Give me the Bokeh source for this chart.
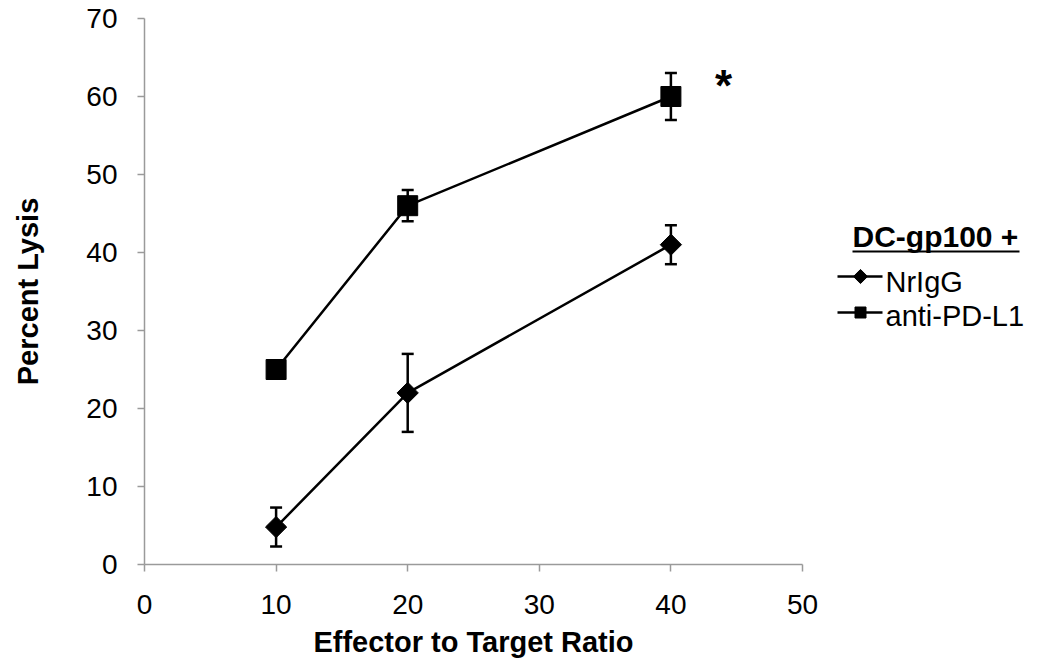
import math
from bokeh.plotting import figure
from bokeh.models import ColumnDataSource, Whisker, TeeHead, FixedTicker, Range1d
from bokeh.layouts import row
from bokeh.embed import file_html
from bokeh.resources import INLINE
from bokeh.core.properties import value

# ---------------- data ----------------
ratios = [10, 20, 40]
nrigg = [4.8, 22.0, 41.0]
nrigg_err = [2.5, 5.0, 2.5]
antipdl1 = [25.0, 46.0, 60.0]
antipdl1_err = [0.5, 2.0, 3.0]
series_names = ["NrIgG", "anti-PD-L1"]
x_ticks = [0, 10, 20, 30, 40, 50]
y_ticks = [0, 10, 20, 30, 40, 50, 60, 70]
x_label = "Effector to Target Ratio"
y_label = "Percent Lysis"
legend_title = "DC-gp100 +"
star_text = "*"

FONT = "Liberation Sans"
AXIS_GRAY = "#9a9a9a"

# layout (pixels)
MAIN_W, H = 818, 663
LEG_W = 224
FR_LEFT, FR_TOP, FR_BOTTOM_PAD, FR_RIGHT_PAD = 144, 18, 99, 16
STAR_X, STAR_Y = 44.0, 61.4

# ---------------- main plot ----------------
p = figure(width=MAIN_W, height=H, x_range=Range1d(0, 50), y_range=Range1d(0, 70),
           output_backend="svg", toolbar_location=None,
           min_border_left=FR_LEFT, min_border_right=FR_RIGHT_PAD, min_border_top=FR_TOP,
           min_border_bottom=FR_BOTTOM_PAD, outline_line_color=None)
p.grid.visible = False

for ax in (p.xaxis[0], p.yaxis[0]):
    ax.axis_line_color = AXIS_GRAY
    ax.axis_line_width = 1.5
    ax.major_tick_line_color = AXIS_GRAY
    ax.major_tick_line_width = 1.5
    ax.major_tick_in = 0
    ax.major_tick_out = 7
    ax.minor_tick_line_color = None
    ax.major_label_text_font = FONT
    ax.major_label_text_font_size = "28px"
    ax.major_label_text_color = "black"
    ax.axis_label_text_font = FONT
    ax.axis_label_text_font_size = "29px"
    ax.axis_label_text_font_style = "bold"
    ax.axis_label_text_color = "black"

p.xaxis.ticker = FixedTicker(ticks=x_ticks)
p.yaxis.ticker = FixedTicker(ticks=y_ticks)
p.xaxis.axis_label = x_label
p.yaxis.axis_label = y_label
p.xaxis.major_label_standoff = 23
p.xaxis.axis_label_standoff = 9
p.yaxis.major_label_standoff = 20
p.yaxis.axis_label_standoff = 39

src_a = ColumnDataSource(dict(x=ratios, y=nrigg,
                              lo=[v - e for v, e in zip(nrigg, nrigg_err)],
                              hi=[v + e for v, e in zip(nrigg, nrigg_err)]))
src_b = ColumnDataSource(dict(x=ratios, y=antipdl1,
                              lo=[v - e for v, e in zip(antipdl1, antipdl1_err)],
                              hi=[v + e for v, e in zip(antipdl1, antipdl1_err)]))

for src in (src_a, src_b):
    w = Whisker(source=src, base="x", upper="hi", lower="lo",
                line_color="black", line_width=2.5,
                upper_head=TeeHead(size=12, line_width=2.5, line_color="black"),
                lower_head=TeeHead(size=12, line_width=2.5, line_color="black"))
    p.add_layout(w)

p.line("x", "y", source=src_a, line_color="black", line_width=2.5)
p.scatter("x", "y", source=src_a, marker="square", angle=math.pi / 4, size=15,
          fill_color="black", line_color="black")
p.line("x", "y", source=src_b, line_color="black", line_width=2.5)
p.scatter("x", "y", source=src_b, marker="square", size=20,
          fill_color="black", line_color="black")

p.text(x=[STAR_X], y=[STAR_Y], text=[star_text], text_font=value(FONT),
       text_font_style="bold", text_font_size="44px", text_align="center",
       text_baseline="alphabetic", text_color="black")

# ---------------- legend panel (frame aligned with main frame; coords = page px) ----------------
lf = figure(width=LEG_W, height=H,
            x_range=Range1d(MAIN_W, MAIN_W + LEG_W), y_range=Range1d(H - FR_BOTTOM_PAD, FR_TOP),
            output_backend="svg", toolbar_location=None, min_border=0,
            x_axis_location=None, y_axis_location=None, outline_line_color=None)
lf.grid.visible = False

LEG = dict(title_x=852, title_y=236, ul_y=251, ul_x1=1019,
           line_x0=837, line_x1=882, mark_x=860, row_y=[276, 312],
           label_x=885, label_y=[281, 315])

lf.text(x=[LEG["title_x"]], y=[LEG["title_y"]], text=[legend_title], text_font=value(FONT),
        text_font_style="bold", text_font_size="30px", text_align="left",
        text_baseline="alphabetic", text_color="black")
lf.segment(x0=[LEG["title_x"]], y0=[LEG["ul_y"]], x1=[LEG["ul_x1"]], y1=[LEG["ul_y"]],
           line_color="black", line_width=2.2)

lf.segment(x0=[LEG["line_x0"]] * 2, y0=LEG["row_y"], x1=[LEG["line_x1"]] * 2, y1=LEG["row_y"],
           line_color="black", line_width=2.5)
lf.scatter(x=[LEG["mark_x"]], y=[LEG["row_y"][0]], marker="square", angle=math.pi / 4,
           size=10, fill_color="black", line_color="black")
lf.scatter(x=[LEG["mark_x"]], y=[LEG["row_y"][1]], marker="square",
           size=11, fill_color="black", line_color="black")
lf.text(x=[LEG["label_x"]] * 2, y=LEG["label_y"], text=series_names, text_font=value(FONT),
        text_font_size="29px", text_align="left", text_baseline="alphabetic",
        text_color="black")

layout = row(p, lf)
open("out.html", "w").write(file_html(layout, INLINE))
